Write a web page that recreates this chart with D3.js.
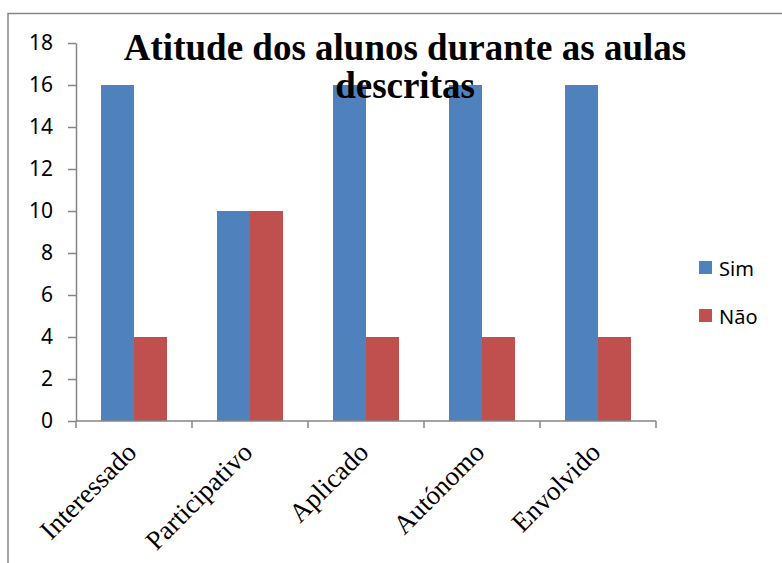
<!DOCTYPE html>
<html><head><meta charset="utf-8">
<script src="https://cdn.jsdelivr.net/npm/d3@7"></script>
<style>body{margin:0;background:#fff}svg{display:block}</style>
</head><body>
<svg id="c" width="782" height="563"></svg>
<script>
const categories = ["Interessado","Participativo","Aplicado","Autónomo","Envolvido"];
const seriesNames = ["Sim","Não"];
const simValues = [16,10,16,16,16];
const naoValues = [4,10,4,4,4];
const yTicks = [0,2,4,6,8,10,12,14,16,18];
const titleLines = ["Atitude dos alunos durante as aulas","descritas"];
const colors = ["#4F81BD","#C0504D"];

const svg = d3.select("#c");
const axisColor = "#868686";

// outer frame (extends beyond the picture at right and bottom)
svg.append("path").attr("d","M8,570 L8,13.5 L790,13.5")
  .attr("fill","none").attr("stroke",axisColor).attr("stroke-width",1.5);

const x0 = d3.scaleBand().domain(categories).range([76,656]).padding(0);
const x1 = d3.scaleBand().domain(seriesNames).range([0,x0.bandwidth()]).paddingInner(0).paddingOuter(0.758);
const y = d3.scaleLinear().domain([0,18]).range([421,43]);

const data = categories.map((c,i)=>({cat:c, vals:[simValues[i], naoValues[i]]}));

const g = svg.append("g");
g.selectAll("g.grp").data(data).join("g").attr("class","grp")
  .attr("transform",d=>`translate(${x0(d.cat)},0)`)
  .selectAll("rect").data(d=>d.vals.map((v,j)=>({s:seriesNames[j],v,j})))
  .join("rect")
  .attr("x",d=>x1(d.s)).attr("width",x1.bandwidth())
  .attr("y",d=>y(d.v)).attr("height",d=>y(0)-y(d.v))
  .attr("fill",d=>colors[d.j]);

// y axis
const ya = svg.append("g").attr("transform","translate(76,0)")
  .call(d3.axisLeft(y).tickValues(yTicks).tickSize(8).tickPadding(15).tickSizeOuter(0));
ya.select(".domain").attr("stroke",axisColor).attr("stroke-width",1.5);
ya.selectAll(".tick line").attr("stroke",axisColor).attr("stroke-width",1.5);
ya.selectAll(".tick text").attr("font-family","'Noto Sans', 'Open Sans', sans-serif")
  .attr("font-size",21).attr("fill","#000");

// x axis
const xa = svg.append("g").attr("transform","translate(0,421)");
xa.append("line").attr("x1",76).attr("x2",656).attr("y1",0).attr("y2",0)
  .attr("stroke",axisColor).attr("stroke-width",1.5);
const bounds = categories.map(c=>x0(c)).concat([x0(categories[categories.length-1])+x0.bandwidth()]);
xa.selectAll("line.tk").data(bounds).join("line").attr("class","tk")
  .attr("x1",d=>d).attr("x2",d=>d).attr("y1",0).attr("y2",7)
  .attr("stroke",axisColor).attr("stroke-width",1.5);
xa.selectAll("text").data(categories).join("text")
  .attr("transform",d=>`translate(${x0(d)+x0.bandwidth()/2+4},${33}) rotate(-45)`)
  .attr("text-anchor","end")
  .attr("font-family","'Liberation Serif', 'Times New Roman', serif")
  .attr("font-size",27).attr("fill","#000").text(d=>d);

// title
svg.append("g").selectAll("text").data(titleLines).join("text")
  .attr("x",405).attr("y",(d,i)=>60+i*38)
  .attr("text-anchor","middle")
  .attr("font-family","'Liberation Serif', 'Times New Roman', serif")
  .attr("font-weight","bold").attr("font-size",37).attr("fill","#000").text(d=>d);

// legend
const lg = svg.append("g").selectAll("g").data(seriesNames).join("g")
  .attr("transform",(d,i)=>`translate(699,${261+i*48})`);
lg.append("rect").attr("width",13).attr("height",13).attr("fill",(d,i)=>colors[i]);
lg.append("text").attr("x",20).attr("y",14.5)
  .attr("font-family","'Noto Sans', 'Open Sans', sans-serif")
  .attr("font-size",20).attr("fill","#000").text(d=>d);
</script>
</body></html>
